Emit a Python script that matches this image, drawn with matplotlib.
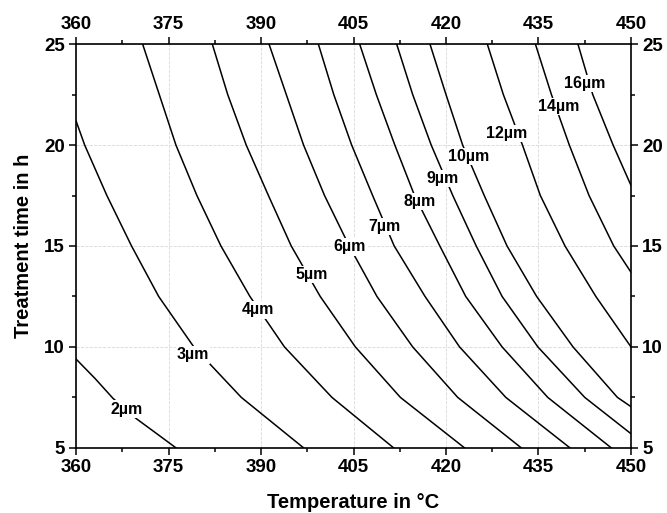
import numpy as np
import matplotlib
matplotlib.use("Agg")
from matplotlib import pyplot as plt

plt.rcParams['font.family'] = ['Liberation Sans', 'DejaVu Sans']
plt.rcParams['font.weight'] = 'bold'

# layer thickness levels in µm
levels = [2, 3, 4, 5, 6, 7, 8, 9, 10, 12, 14, 16]

# points: temperature (°C) and time (h)
t_grid = [25, 22.5, 20, 17.5, 15, 12.5, 10, 7.5, 5]

curve_temps = [
    [360.0, 363.1, 366.0, 369.8, 373.1, 376.2],
    [360.0, 361.4, 365.0, 369.0, 373.4, 379.1, 386.8, 396.9],
    [370.8, 373.5, 376.2, 379.6, 383.5, 388.2, 393.8, 401.5, 411.5],
    [382.1, 384.6, 387.6, 391.2, 394.9, 399.6, 405.3, 412.6, 423.0],
    [391.3, 394.1, 396.9, 400.3, 404.3, 408.8, 414.6, 421.9, 432.2],
    [399.3, 401.8, 404.7, 408.1, 411.6, 416.6, 422.2, 429.7, 440.1],
    [406.0, 408.7, 411.7, 414.9, 419.0, 423.2, 429.1, 436.5, 446.8],
    [412.0, 414.6, 417.6, 421.1, 424.9, 429.1, 434.9, 442.5, 450.0],
    [417.4, 420.0, 422.7, 426.2, 429.9, 434.7, 440.6, 447.8, 450.0],
    [426.7, 429.3, 432.4, 435.3, 439.3, 444.3, 450.0],
    [434.5, 437.1, 440.0, 443.2, 447.2, 450.0],
    [441.4, 443.8, 447.1, 450.0],
]
curve_times = [
    [9.4, 8.43, 7.45, 6.44, 5.7, 5.0],
    [21.2] + t_grid[2:],
    t_grid,
    t_grid,
    t_grid,
    t_grid,
    t_grid,
    t_grid[:8] + [5.7],
    t_grid[:8] + [7.04],
    t_grid[:6] + [10.0],
    t_grid[:5] + [13.7],
    t_grid[:3] + [18.0],
]

# where each line carries its label
label_T = [368.2, 379.0, 389.5, 398.2, 404.4, 410.1, 415.7, 419.5, 423.6, 429.8, 438.2, 442.5]
label_t = [6.92, 9.6, 11.83, 13.6, 14.95, 15.96, 17.19, 18.35, 19.42, 20.58, 21.9, 23.05]

fig = plt.figure(figsize=(6.67, 5.13), dpi=100)
ax = fig.add_axes([0.114, 0.127, 0.832, 0.787])

for T, t in zip(curve_temps, curve_times):
    ax.plot(T, t, color='black', lw=1.1, zorder=2)

for lev, x, y in zip(levels, label_T, label_t):
    ax.text(x, y, f"{lev}µm", fontsize=11.5, fontweight='bold', ha='center', va='center',
            zorder=3, bbox=dict(facecolor='white', edgecolor='none', pad=0.8))

ax.set_xlim(360, 450)
ax.set_ylim(5, 25)
ax.set_xticks(np.arange(360, 451, 15))
ax.set_xticks(np.arange(367.5, 450, 15), minor=True)
ax.set_yticks(np.arange(5, 26, 5))
ax.set_yticks(np.arange(7.5, 25, 5), minor=True)

ax.tick_params(which='both', direction='out', top=True, right=True,
               labeltop=True, labelright=True, width=1.1, labelsize=13.5)
ax.tick_params(which='major', length=5, pad=3)
ax.tick_params(which='minor', length=3)
for lab in ax.get_xticklabels() + ax.get_yticklabels():
    lab.set_fontweight('bold')
for sp in ax.spines.values():
    sp.set_linewidth(1.2)

ax.grid(True, which='major', color='#d8d8d8', linestyle='--', linewidth=0.6, zorder=0)
ax.set_axisbelow(True)

ax.set_xlabel("Temperature in °C", fontsize=14.5, fontweight='bold', labelpad=12)
ax.set_ylabel("Treatment time in h", fontsize=14.5, fontweight='bold', labelpad=8)

fig.savefig("out.png", dpi=100)
